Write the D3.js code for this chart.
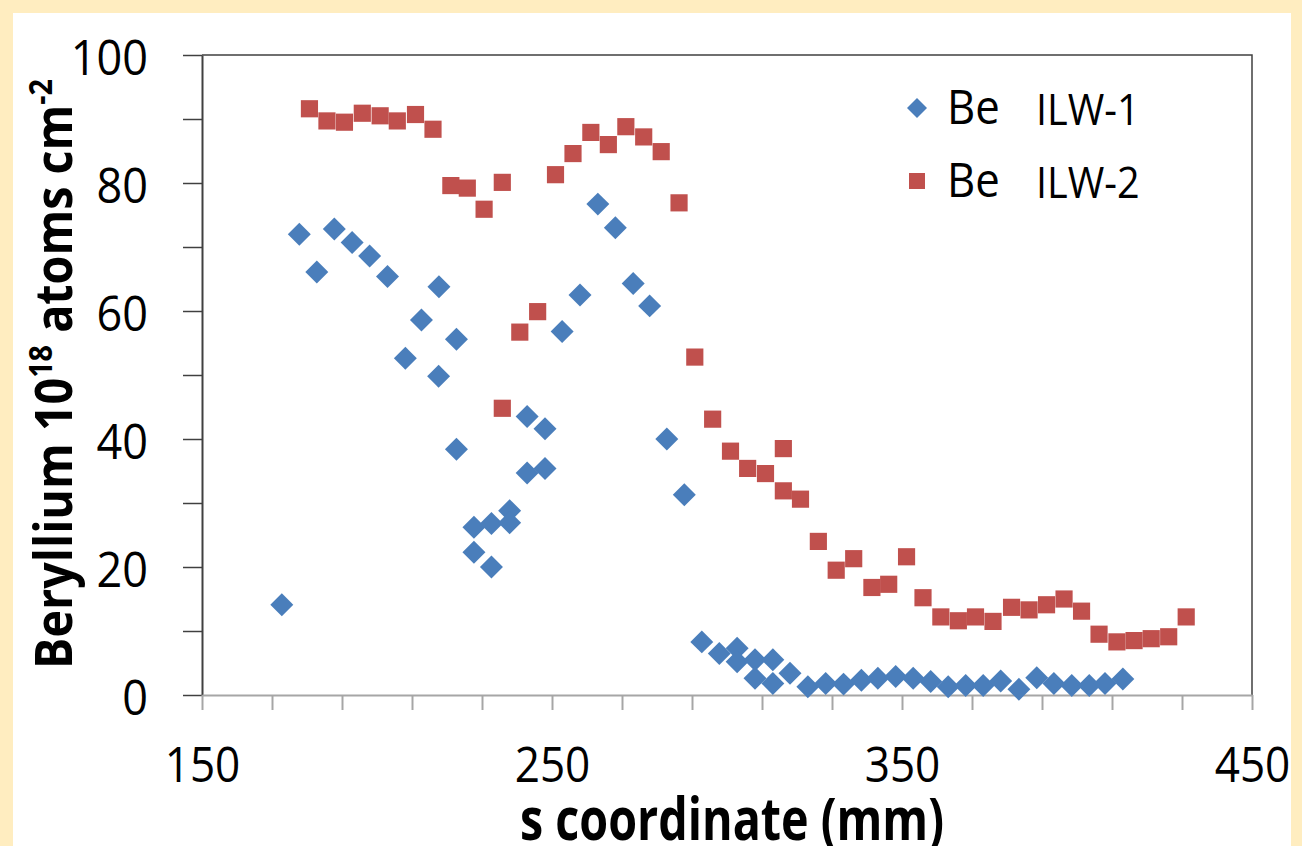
<!DOCTYPE html>
<html>
<head>
<meta charset="utf-8">
<script src="https://cdn.jsdelivr.net/npm/d3@7"></script>
<style>
  body { margin: 0; background: #FFEDC0; }
  svg { display: block; }
</style>
</head>
<body>
<svg id="chart"></svg>
<script>
// s coordinate (mm) and Be amount (1e18 atoms/cm2)
const ilw1S = [172.8, 177.8, 182.8, 187.8, 192.9, 197.9, 203.0, 208.1, 212.7, 217.7,
  217.6, 222.7, 222.7, 227.7, 227.7, 232.7, 232.7, 237.9, 237.9, 242.9,
  242.9, 248.0, 248.0, 252.9, 258.0, 263.1, 268.1, 273.2, 277.9, 282.8,
  287.8, 292.8, 297.8, 302.9, 302.9, 308.0, 308.0, 313.1, 313.1, 318.0,
  323.1, 328.2, 333.3, 338.4, 343.1, 348.2, 353.2, 358.2, 363.2, 368.2,
  373.2, 378.2, 383.4, 388.5, 393.4, 398.5, 403.5, 408.0, 413.1];
const ilw1V = [14.1, 72.0, 66.1, 72.8, 70.7, 68.6, 65.4, 52.6, 58.6, 63.8,
  49.8, 55.6, 38.4, 26.2, 22.3, 26.8, 20.0, 28.8, 26.9, 43.5,
  34.7, 41.6, 35.4, 56.8, 62.5, 76.7, 73.0, 64.3, 60.8, 40.0,
  31.3, 8.3, 6.5, 7.3, 5.2, 5.5, 2.6, 5.5, 1.8, 3.4,
  1.3, 1.8, 1.7, 2.3, 2.6, 2.9, 2.6, 2.1, 1.3, 1.5,
  1.5, 2.2, 0.9, 2.7, 1.8, 1.5, 1.5, 1.8, 2.5];

const ilw2S = [180.7, 185.7, 190.7, 195.8, 200.9, 205.8, 211.0, 216.0, 221.1, 225.8,
  230.6, 235.8, 235.8, 240.8, 245.9, 251.0, 256.0, 261.1, 266.1, 271.1,
  276.2, 281.2, 286.3, 290.8, 295.9, 301.0, 305.9, 311.0, 316.1, 316.1,
  321.0, 326.1, 331.2, 336.2, 341.4, 346.2, 351.3, 356.0, 361.1, 366.1,
  371.0, 376.0, 381.3, 386.3, 391.3, 396.3, 401.3, 406.3, 411.4, 416.3,
  421.2, 426.2, 431.2];
const ilw2V = [91.6, 89.7, 89.5, 90.9, 90.5, 89.7, 90.7, 88.4, 79.6, 79.2,
  75.9, 80.1, 44.8, 56.7, 59.9, 81.3, 84.6, 87.9, 86.0, 88.8,
  87.2, 84.9, 76.9, 52.8, 43.1, 38.1, 35.4, 34.6, 38.5, 31.9,
  30.6, 24.0, 19.5, 21.3, 16.8, 17.3, 21.6, 15.2, 12.2, 11.6,
  12.2, 11.5, 13.7, 13.3, 14.1, 15.0, 13.1, 9.5, 8.3, 8.5,
  8.8, 9.1, 12.2];

const xTicks = [150, 170, 190, 210, 230, 250, 270, 290, 310, 330, 350, 370, 390, 410, 430, 450];
const xLabels = [150, 250, 350, 450];
const yTicks = [0, 10, 20, 30, 40, 50, 60, 70, 80, 90, 100];
const yLabels = [0, 20, 40, 60, 80, 100];
const seriesNames = ["ILW-1", "ILW-2"];

const width = 1302, height = 846;
const margin = { top: 55, right: 50, bottom: 151, left: 202 };
const blue = "#4A7EBB", red = "#C0504D";
const font = "'Open Sans', 'Noto Sans', sans-serif";

const svg = d3.select("#chart").attr("width", width).attr("height", height);

// white panel on the yellow page
svg.append("rect")
  .attr("x", 13).attr("y", 13)
  .attr("width", 1278).attr("height", height - 13)
  .attr("fill", "#fff");

const x = d3.scaleLinear().domain([150, 450]).range([margin.left, width - margin.right]);
const y = d3.scaleLinear().domain([0, 100]).range([height - margin.bottom, margin.top]);

// plot frame (top and right)
svg.append("path")
  .attr("d", `M${x(150)},${y(100)}H${x(450)}V${y(0)}`)
  .attr("fill", "none").attr("stroke", "#404040").attr("stroke-width", 1.5);

// y axis
const yAxis = svg.append("g")
  .attr("transform", `translate(${x(150)},0)`)
  .call(d3.axisLeft(y).tickValues(yTicks).tickSize(19).tickSizeOuter(0)
    .tickFormat(d => yLabels.includes(d) ? d : ""));
yAxis.select(".domain").attr("stroke", "#404040").attr("stroke-width", 2);
yAxis.selectAll(".tick line").attr("stroke", "#404040").attr("stroke-width", 1.5);
yAxis.selectAll(".tick text")
  .attr("x", 0).attr("dy", null).attr("dominant-baseline", "central")
  .attr("transform", "translate(-54,0) scale(0.9,1)")
  .attr("font-family", font).attr("font-size", 50).attr("fill", "#000");

// x axis
const xAxis = svg.append("g")
  .attr("transform", `translate(0,${y(0)})`)
  .call(d3.axisBottom(x).tickValues(xTicks).tickSize(15).tickSizeOuter(0)
    .tickFormat(d => xLabels.includes(d) ? d : ""));
xAxis.select(".domain").attr("stroke", "#A6A6A6").attr("stroke-width", 2);
xAxis.selectAll(".tick line").attr("stroke", "#A6A6A6").attr("stroke-width", 2);
xAxis.selectAll(".tick text")
  .attr("y", 87).attr("dy", null)
  .attr("transform", "scale(0.9,1)")
  .attr("font-family", font).attr("font-size", 49).attr("fill", "#000");

// squeeze a text node to a given width
function fitWidth(textSel, target) {
  const w = textSel.node().getBBox().width;
  const k = target / w;
  textSel.attr("transform", `scale(${k},1)`);
}

// axis titles
const xt = svg.append("g").attr("transform", `translate(732,840)`)
  .append("text")
  .attr("text-anchor", "middle")
  .attr("font-family", font).attr("font-weight", 700).attr("font-size", 60)
  .text("s coordinate (mm)");
fitWidth(xt, 424);

const yt = svg.append("g").attr("transform", `translate(72,374) rotate(-90)`)
  .append("text")
  .attr("text-anchor", "middle")
  .attr("font-family", font).attr("font-weight", 700).attr("font-size", 52);
yt.append("tspan").text("Beryllium 10");
yt.append("tspan").attr("font-size", 32).attr("dy", -20).text("18");
yt.append("tspan").attr("dy", 20).text(" atoms cm");
yt.append("tspan").attr("font-size", 32).attr("dy", -20).text("-2");
fitWidth(yt, 590);

// markers
const diamond = d3.symbol().type(d3.symbolSquare).size(264);
const square = d3.symbol().type(d3.symbolSquare).size(295);

svg.append("g").selectAll("path")
  .data(d3.zip(ilw1S, ilw1V))
  .join("path")
  .attr("d", diamond)
  .attr("transform", d => `translate(${x(d[0])},${y(d[1])}) rotate(45)`)
  .attr("fill", blue);

svg.append("g").selectAll("path")
  .data(d3.zip(ilw2S, ilw2V))
  .join("path")
  .attr("d", square)
  .attr("transform", d => `translate(${x(d[0])},${y(d[1])})`)
  .attr("fill", red);

// legend
const legend = svg.append("g");
const rows = [
  { name: seriesNames[0], cy: 108, base: 124, sym: d3.symbol().type(d3.symbolSquare).size(200)(), rot: 45, color: blue },
  { name: seriesNames[1], cy: 181, base: 197, sym: d3.symbol().type(d3.symbolSquare).size(256)(), rot: 0, color: red }
];
rows.forEach(r => {
  legend.append("path")
    .attr("d", r.sym)
    .attr("transform", `translate(917,${r.cy}) rotate(${r.rot})`)
    .attr("fill", r.color);
  legend.append("text")
    .attr("transform", `translate(947,${r.base}) scale(0.93,1)`)
    .attr("font-family", font).attr("font-size", 47)
    .text("Be");
  legend.append("text")
    .attr("transform", `translate(1036,${r.base + 1}) scale(0.9,1)`)
    .attr("font-family", font).attr("font-size", 44)
    .text(r.name);
});
</script>
</body>
</html>
